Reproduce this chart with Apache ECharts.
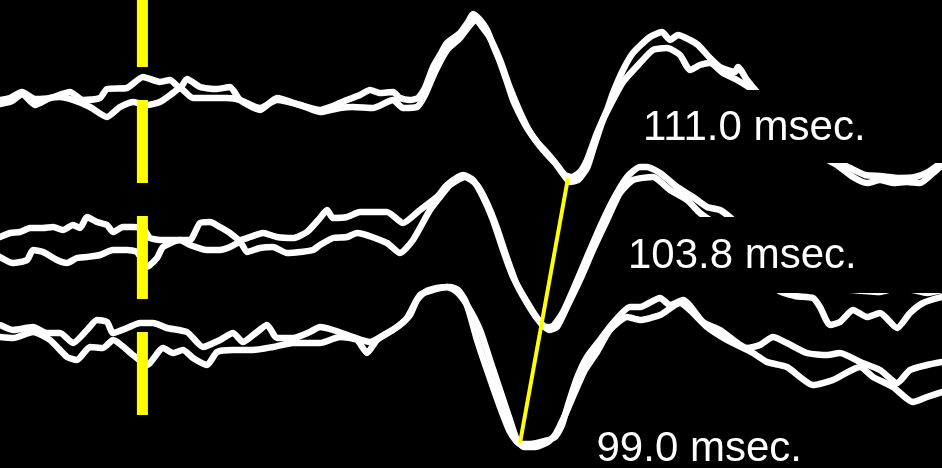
<!DOCTYPE html>
<html>
<head>
<meta charset="utf-8">
<script src="https://cdn.jsdelivr.net/npm/echarts@6/dist/echarts.min.js"></script>
<style>
html,body{margin:0;padding:0;background:#000;}
#chart{width:942px;height:468px;}
</style>
</head>
<body>
<div id="chart"></div>
<script>
// Time axis in msec, amplitude in arbitrary units (each channel relative to its own baseline)
const timeRange = [-31, 204.5];
const stimulusTime = 4.6;

// Channel 1 (top) – two superimposed sweeps
const ch1SweepA = [[-31,-0.2],[-28.5,0],[-25.5,0.6],[-22.25,-0.1],[-18.5,0],[-13.5,0.6],[-10.25,-0.2],[-6,0],[-4.25,0.9],[0.75,1.0],[4.75,2.1],[9,1.6],[11.5,1.8],[14,1.0],[15.75,1.9],[19,1.1],[23.25,0.9],[26.5,1.1],[29,-0.2],[34,-1.2],[38.25,0],[44,-0.7],[49,-1.2],[52.25,-0.8],[55.75,-0.2],[59,0.3],[61.5,0.8],[64,0.5],[67.25,0.6],[69,0],[71.5,-0.2],[73.5,0],[75.25,1.0],[77.25,3.1],[79,4.3],[80.75,5.5],[84,6.5],[86,7.6],[87.25,8.4],[89,7.8],[90.75,6.8],[92.25,5.3],[94,3.6],[95.75,1.6],[97.25,-0.2],[99,-1.7],[100.75,-3.0],[103.25,-4.4],[105.75,-5.5],[108.25,-6.7],[110.25,-7.7],[112,-7.9],[114,-7.4],[115.75,-6.2],[118.25,-3.5],[120.75,-1.2],[122.25,0.5],[124.75,2.8],[127.25,4.5],[131.5,6.1],[134.5,6.6],[136.5,5.8],[138.5,6.3],[141.5,5.8],[143.5,5.3],[146.5,4.0],[149,3.1],[152.75,2.6],[153.5,3.1],[155.75,1.8],[158.25,0.6],[166.5,-2.7],[174,-5.7],[178.25,-6.7],[182.25,-7.9],[185.75,-8.5],[189,-8.2],[192.25,-8.5],[195.75,-8.4],[199,-8.5],[202.25,-7.5],[204.5,-6.7]];
const ch1SweepB = [[-31,-0.6],[-28,-0.3],[-25.5,0.4],[-22.25,-0.7],[-18.5,0],[-16,0.1],[-12.75,-0.2],[-8.5,-0.9],[-4.25,-1.9],[-1,-0.9],[2.25,-0.4],[5.75,-0.7],[9,-0.4],[12.25,0.5],[14,1.0],[17.25,0],[25.75,0],[29,-0.2],[34,-1.0],[38.25,-0.2],[44,-0.7],[49,-1.4],[54,-1.0],[57.25,-0.9],[62.25,-1.0],[67.25,-0.2],[69.75,-1.0],[73.25,-0.9],[75.25,0.3],[77.75,2.6],[80.75,4.8],[84,6.0],[86.5,7.3],[88,7.8],[89.75,7.0],[91.5,6.0],[94,3.8],[96.5,1.0],[99,-1.4],[101.5,-3.4],[104.75,-5.2],[107.75,-6.5],[109.75,-7.6],[111.5,-8.4],[113.5,-8.2],[115.75,-7.0],[117.25,-5.2],[119.75,-2.2],[122.25,-0.2],[124.75,1.6],[129,3.5],[132.25,4.8],[135.75,5.0],[139,4.3],[141.5,2.8],[144,3.3],[146.5,3.5],[149.75,2.5],[153.25,1.8],[156.5,1.0],[159,0.3],[169,-3.2],[177.75,-6.2],[181.5,-7.0],[185.25,-7.7],[189,-7.8],[194,-8.0],[197.75,-7.9],[201,-7.4],[204.5,-6.4]];

// Channel 2 (middle)
const ch2SweepA = [[-31,0.3],[-28.5,0.7],[-26,0.8],[-23.5,1.2],[-20.25,1.2],[-17.75,1.3],[-15.25,1.0],[-12.75,1.5],[-11,1.2],[-9.25,2.3],[-6.75,1.8],[-4.25,1.5],[-2.75,0.8],[-0.25,1.3],[2.25,1.3],[4.75,1.2],[6.5,0.2],[9.75,0],[14,0],[16.5,0],[19,1.7],[21.5,1.8],[24,1.3],[26.5,0.7],[29,0],[31.5,0.3],[34.75,0.7],[38.25,0.3],[42.25,0.2],[45.75,0.8],[49,2.2],[50.75,3.0],[52.25,2.2],[55.75,2.3],[59,2.8],[65.75,2.8],[69.75,1.7],[74,3.0],[78.25,4.3],[80.75,5.5],[84.75,6.5],[87.25,6.0],[89.75,4.3],[92.25,2.0],[94.75,-1.0],[97.25,-3.7],[100.75,-6.2],[103.25,-7.8],[105.25,-8.7],[107.25,-8.6],[109.75,-7.2],[112.25,-5.0],[115.75,-1.7],[119,1.3],[122.25,4.0],[125.75,6.3],[129,7.3],[130.75,7.3],[134,6.7],[138.25,5.3],[142.25,4.3],[145.75,3.3],[149,3.0],[152.25,2.0],[159,-1.0],[163.5,-5.0],[167.75,-5.6],[172.25,-5.8],[174,-6.7],[176.5,-8.5],[179,-8.2],[182.25,-7.0],[185.75,-7.7],[189,-7.3],[193.25,-8.8],[196.5,-7.3],[199.75,-6.3],[204.5,-5.7]];
const ch2SweepB = [[-31,-1.7],[-27.75,-2.3],[-24.25,-2.0],[-22.75,-1.0],[-20.25,-1.2],[-16.75,-2.0],[-14.25,-2.3],[-11.75,-1.8],[-9.25,-1.7],[-6,-1.5],[-2.75,-1.0],[0.75,-1.0],[3.25,-1.2],[5.75,-2.7],[8.25,-1.8],[9.75,-0.7],[14,0],[16.5,-0.5],[20.75,-1.0],[24,-1.0],[26.5,-0.7],[29,-0.2],[30.75,-1.2],[34,-0.8],[37.25,-0.7],[40.75,-1.3],[44,-1.2],[47.25,-1.0],[49,-0.5],[52.25,0.2],[55.75,0.3],[58.25,0.7],[65.75,-0.3],[69,-1.3],[72.25,0],[76.5,3.0],[79,4.3],[81.5,5.5],[85.25,6.3],[88.25,5.5],[90.75,3.7],[93.25,1.2],[95.75,-1.8],[98.25,-4.5],[101.5,-6.8],[104,-8.2],[106.25,-9.0],[108.25,-8.7],[110.75,-6.7],[114,-4.0],[117.25,-1.0],[120.75,2.0],[124,4.7],[127.25,6.0],[132.25,6.3],[136.5,5.0],[140.75,4.0],[144,2.7],[146.5,2.0],[150.25,1.2],[159,-2.0],[169,-4.5],[182.25,-5.0],[189,-5.2],[193.25,-4.8],[197.25,-5.0],[200.75,-5.3],[204.5,-5.0]];

// Channel 3 (bottom)
const ch3SweepA = [[-31,1.0],[-27.75,0.5],[-22.75,0.8],[-19.25,0.2],[-16,0.2],[-12.75,-0.8],[-9.25,0.5],[-6.75,1.5],[-4.25,1.3],[-2.75,0.2],[0.75,0.7],[4,1.2],[7.25,1.2],[10.75,0.7],[15.75,0.3],[19.75,-1.2],[24,-0.5],[27.25,0.2],[29.75,-0.7],[33.25,0.3],[35.75,1.0],[38.25,-0.3],[42.25,-0.3],[46.5,0.3],[49,0.8],[52.25,0.5],[57.25,-0.2],[61.5,-0.7],[65.75,0.2],[69,1.0],[71.5,2.0],[73.25,3.5],[75.25,4.3],[78.25,4.7],[81.5,4.8],[83.5,4.5],[85.25,3.5],[86.5,2.0],[88.25,-0.5],[90.75,-3.5],[94,-7.2],[96.5,-9.7],[99,-10.9],[101.5,-10.9],[105.25,-10.6],[107.75,-10.2],[109.5,-9.0],[111,-7.0],[113.25,-4.3],[115.75,-2.2],[119,-0.5],[122.25,1.2],[126.5,2.8],[129,2.8],[134,3.7],[136.5,3.0],[139.75,3.5],[144.75,1.3],[149,0.5],[155.75,-1.3],[159,-1.0],[162.25,-0.2],[165.75,-0.8],[170.75,-1.8],[175.75,-2.0],[179,-1.8],[184,-2.7],[189,-3.5],[193.25,-4.8],[196.5,-3.5],[200.75,-3.0],[204.5,-2.7]];
const ch3SweepB = [[-31,-0.2],[-27.75,-0.3],[-22.75,0.3],[-18.5,-0.5],[-14.25,-2.2],[-11.75,-2.5],[-8.5,-1.2],[-5.25,-1.3],[-2.75,-0.5],[2.25,-2.0],[5.75,-3.0],[9.75,-1.3],[12.25,-1.8],[14.75,-1.5],[17.25,-2.3],[20.75,-3.0],[23.25,-1.7],[27.25,-1.5],[32.25,-1.5],[37.25,-1.2],[42.25,-0.8],[49,-0.8],[54,-0.2],[58.25,-0.5],[60.75,-1.8],[63.25,-0.5],[67.25,0.5],[70.75,1.7],[74,4.0],[77.25,4.5],[80.75,4.8],[83.25,4.3],[85.75,3.0],[89,0.5],[91.5,-2.5],[94,-5.5],[96.5,-8.5],[98.25,-10.5],[100,-11.2],[102.75,-11.2],[106,-10.7],[107.75,-10.0],[110.25,-8.0],[112.75,-5.7],[115.25,-3.5],[118.25,-1.7],[121.5,0.5],[125.75,1.8],[129,1.5],[134,2.0],[139,3.2],[142.25,2.2],[145.75,0.8],[150.75,-0.5],[157.25,-1.8],[160.75,-2.7],[165.75,-3.2],[172.25,-5.0],[177.25,-4.5],[184,-3.2],[187.25,-4.2],[192.25,-5.2],[197.25,-6.7],[200.75,-6.2],[204.5,-5.7]];

// Latency marks (trough per channel)
const latencies = [111.0, 103.8, 99.0];
const latencyAmps = [-8.0, -9.7, -10.8];
const latencyLabels = ['111.0 msec.', '103.8 msec.', '99.0 msec.'];

// Vertical layout: baseline offset of each channel on the shared axis
const channelOffsets = [0, -14.2, -23.7];
const ampRange = [-37, 9.8];
const markerRange = [9.8, -33.5];

const shift = (arr, off) => arr.map(p => [p[0], +(p[1] + off).toFixed(2)]);

const white = { color: '#ffffff', width: 6.5, join: 'round', cap: 'round' };
function trace(name, data, off) {
  return { name, type: 'line', data: shift(data, off), showSymbol: false, symbol: 'none',
    smooth: 0.2, lineStyle: white, z: 2, silent: true, animation: false };
}

const chart = echarts.init(document.getElementById('chart'), null, { renderer: 'canvas' });
const font = '42px "Liberation Sans", Arial, sans-serif';
function label(text, rect, tx, ty) {
  return [
    { type: 'rect', shape: rect, style: { fill: '#000' }, z: 100 },
    { type: 'text', x: tx, y: ty, z: 101,
      style: { text, font, fill: '#ffffff', textAlign: 'left', textVerticalAlign: 'middle' } }
  ];
}

chart.setOption({
  backgroundColor: '#000000',
  animation: false,
  grid: { left: 0, right: 0, top: 0, bottom: 0 },
  xAxis: { type: 'value', min: timeRange[0], max: timeRange[1], show: false },
  yAxis: { type: 'value', min: ampRange[0], max: ampRange[1], show: false },
  series: [
    trace('ch1a', ch1SweepA, channelOffsets[0]),
    trace('ch1b', ch1SweepB, channelOffsets[0]),
    trace('ch2a', ch2SweepA, channelOffsets[1]),
    trace('ch2b', ch2SweepB, channelOffsets[1]),
    trace('ch3a', ch3SweepA, channelOffsets[2]),
    trace('ch3b', ch3SweepB, channelOffsets[2]),
    { name: 'stimulus', type: 'line', showSymbol: false, symbol: 'none', z: 5, silent: true,
      data: [[stimulusTime, markerRange[0]], [stimulusTime, markerRange[1]]],
      lineStyle: { color: '#ffff00', width: 11, type: [83, 33], dashOffset: 16, cap: 'butt' } },
    { name: 'latency', type: 'line', showSymbol: false, symbol: 'none', z: 6, silent: true,
      data: latencies.map((t, i) => [t, +(latencyAmps[i] + channelOffsets[i]).toFixed(2)]),
      lineStyle: { color: '#ffff00', width: 4, cap: 'butt' } }
  ],
  graphic: [
    ...label(latencyLabels[0], { x: 636, y: 90, width: 306, height: 73 }, 643, 128.5),
    ...label(latencyLabels[1], { x: 618, y: 217, width: 324, height: 76 }, 628, 256.8),
    ...label(latencyLabels[2], { x: 588, y: 425, width: 354, height: 43 }, 596.5, 449)
  ]
});
</script>
</body>
</html>
